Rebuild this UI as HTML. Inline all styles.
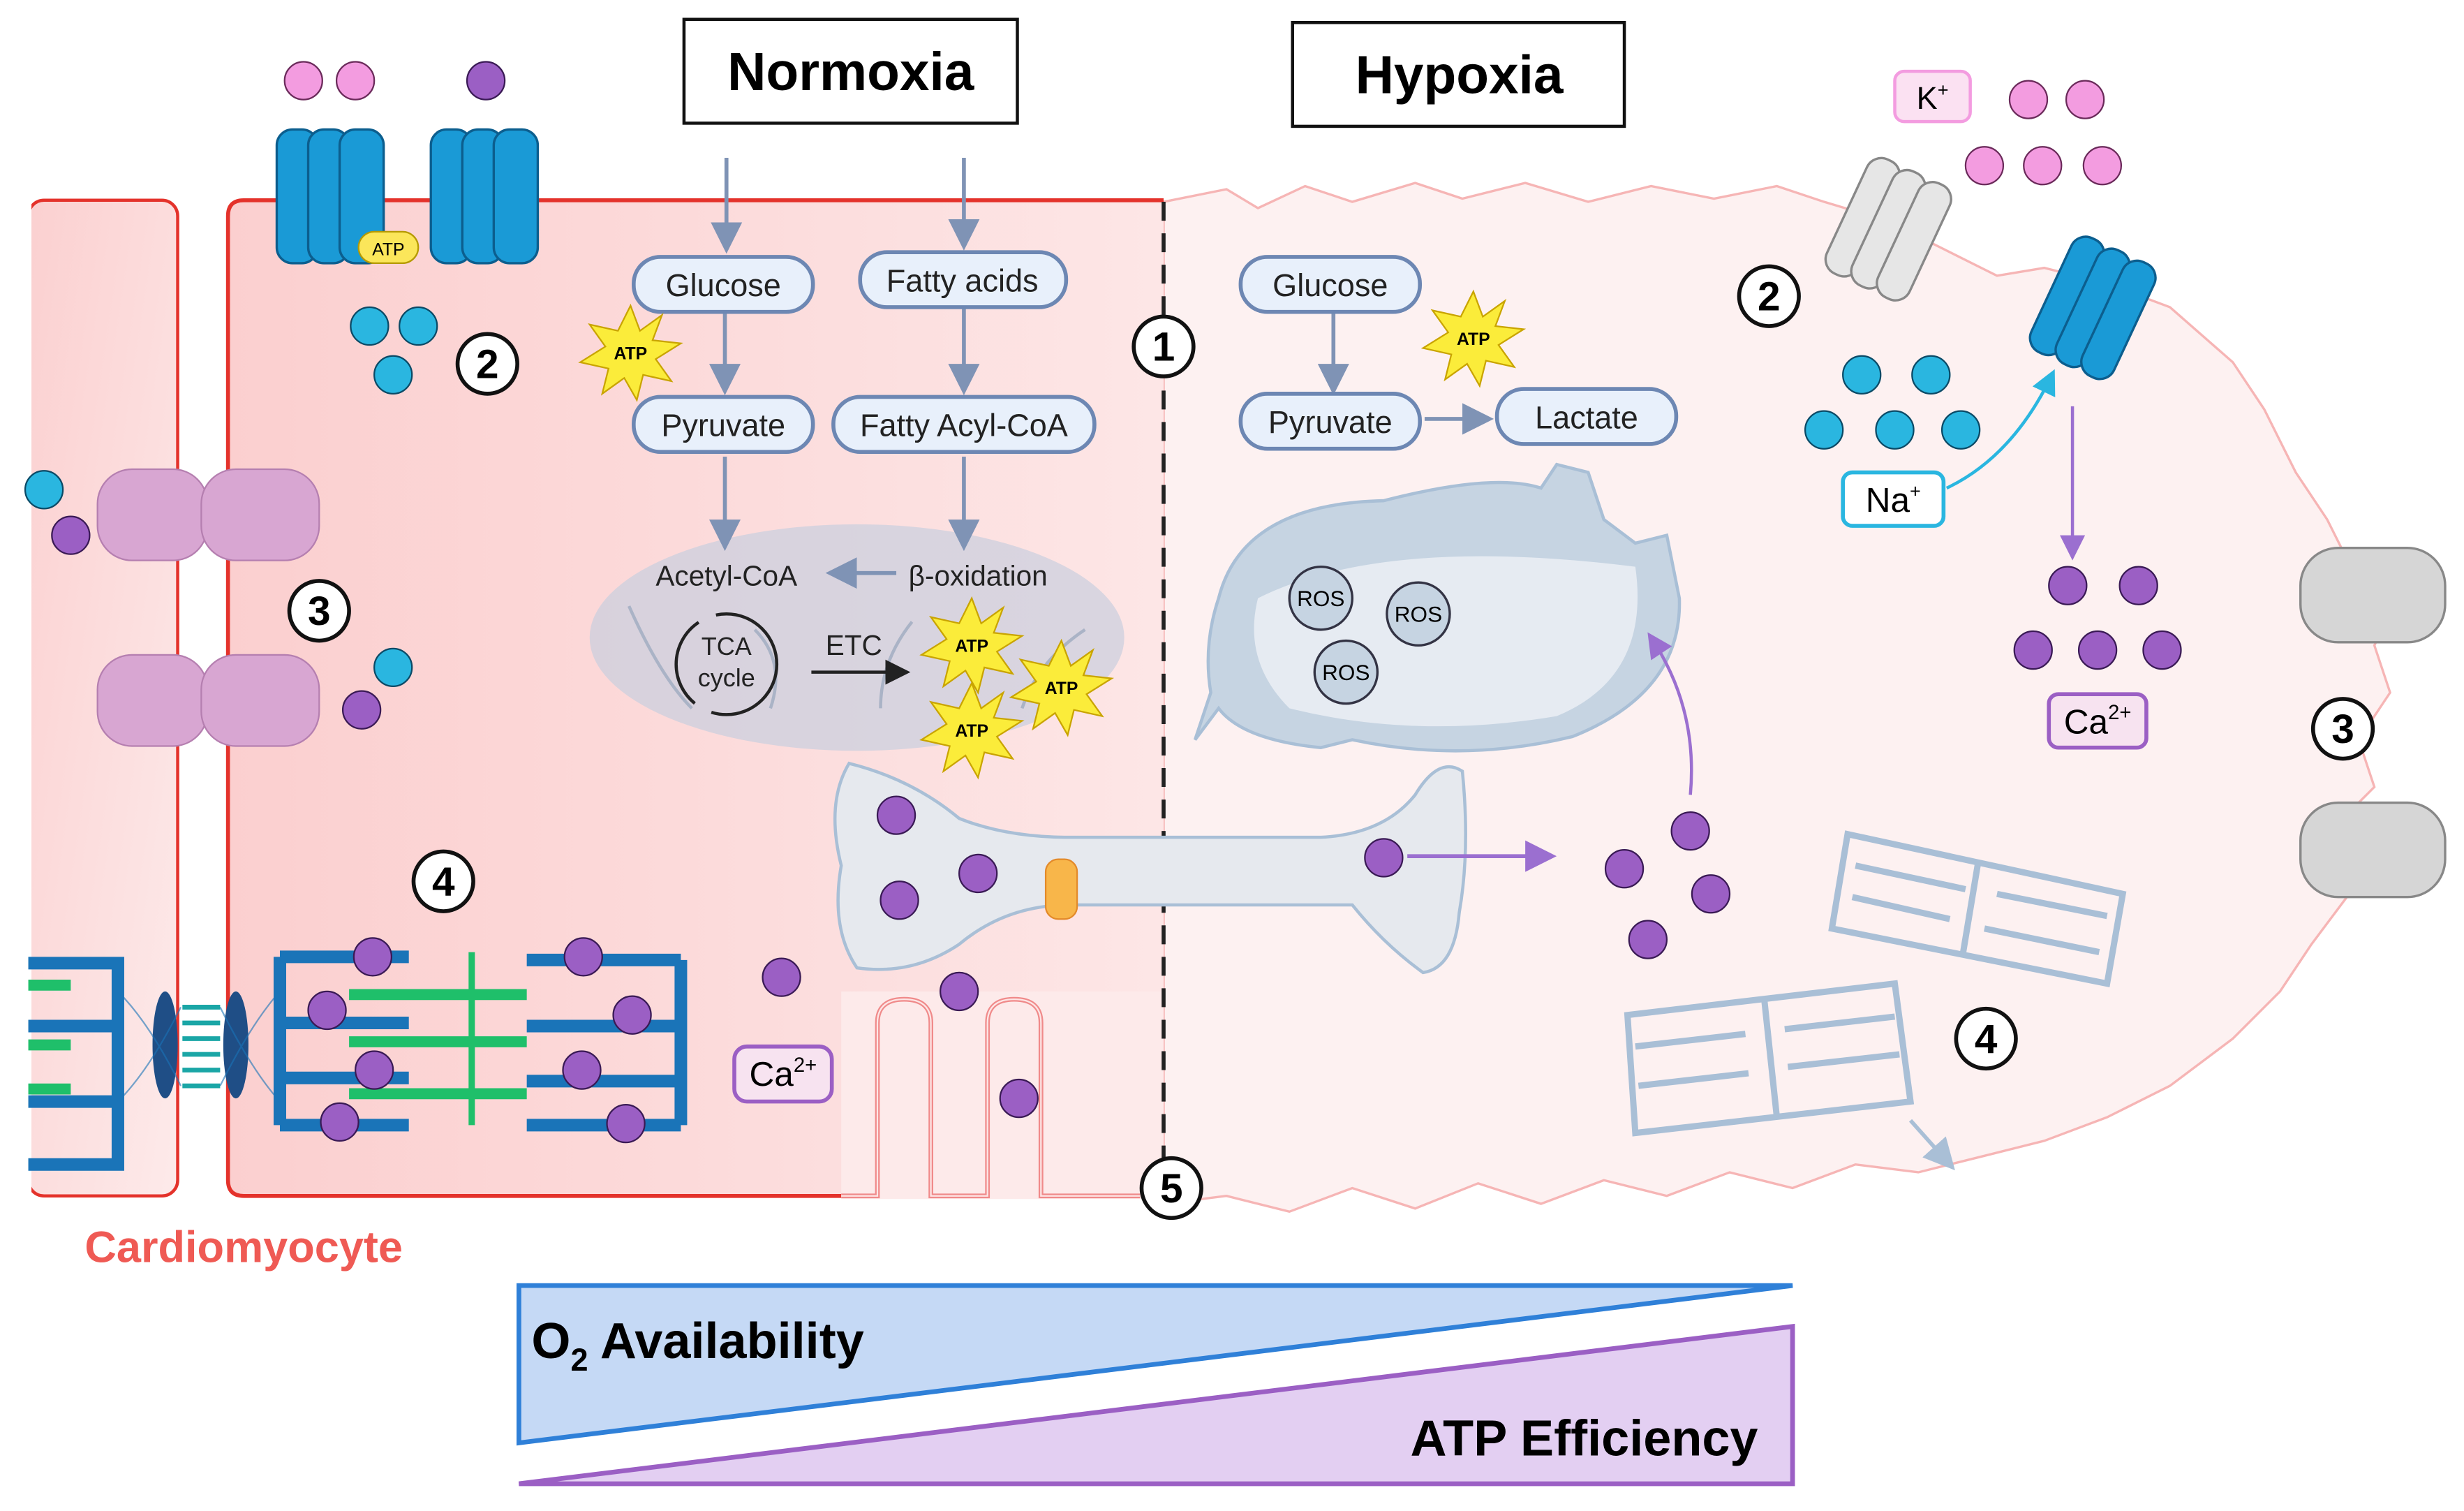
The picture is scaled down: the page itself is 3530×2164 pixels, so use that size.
<!DOCTYPE html>
<html><head><meta charset="utf-8"><style>
html,body{margin:0;padding:0;background:#fff;}
svg{display:block;}
text{font-family:"Liberation Sans",sans-serif;}
</style></head><body>
<svg width="3530" height="2164" viewBox="0 0 1567 960" xmlns="http://www.w3.org/2000/svg">
<defs>
<linearGradient id="pk" x1="0" x2="1" y1="0" y2="0">
<stop offset="0" stop-color="#fbcfcf"/><stop offset="1" stop-color="#fde6e6"/></linearGradient>
<linearGradient id="pk2" x1="0" x2="1" y1="0" y2="1">
<stop offset="0" stop-color="#fbd0d0"/><stop offset="1" stop-color="#fdeaea"/></linearGradient>
<polygon id="st" fill="#fbec3a" stroke="#c9a400" stroke-width="1" points="0,-30 6,-14 20,-24 14,-8 32,-6 16,4 26,18 8,14 4,30 -4,16 -18,26 -14,10 -32,6 -16,-4 -26,-18 -8,-14"/>
<marker id="ab" markerWidth="8" markerHeight="8" refX="6" refY="4" orient="auto"><path d="M0,0 L8,4 L0,8 z" fill="#7f93b5"/></marker>
<marker id="ak" markerWidth="8" markerHeight="8" refX="6" refY="4" orient="auto"><path d="M0,0 L8,4 L0,8 z" fill="#222"/></marker>
<marker id="ap" markerWidth="8" markerHeight="8" refX="6" refY="4" orient="auto"><path d="M0,0 L8,4 L0,8 z" fill="#9b6fd0"/></marker>
<marker id="ac" markerWidth="8" markerHeight="8" refX="6" refY="4" orient="auto"><path d="M0,0 L8,4 L0,8 z" fill="#2ab6e0"/></marker>
<marker id="ag" markerWidth="8" markerHeight="8" refX="6" refY="4" orient="auto"><path d="M0,0 L8,4 L0,8 z" fill="#a9bfd6"/></marker>
</defs>

<!-- hypoxic cell -->
<path d="M740,128 L780,120 800,132 830,118 860,128 900,116 930,126 970,116 1010,128 1050,118 1090,126 1130,118 1160,128 1200,140 1240,160 1270,175 1300,170 1340,180 1380,195 1420,230 1440,260 1460,300 1480,330 1500,370 1520,390 1510,410 1520,440 1500,470 1510,500 1490,520 1500,560 1470,600 1450,630 1420,660 1380,690 1340,710 1300,725 1260,735 1220,745 1180,740 1140,755 1100,745 1060,760 1020,750 980,765 940,752 900,768 860,755 820,770 780,760 740,765 Z" fill="#fdf1f1" stroke="#f6b5b5" stroke-width="1.5"/>
<!-- neighbor cell -->
<rect x="18" y="127" width="95" height="633" rx="10" fill="url(#pk2)" stroke="#e4322b" stroke-width="2"/>
<rect x="10" y="127" width="10" height="635" fill="#fff"/>
<!-- main cell -->
<path d="M740,127 L155,127 Q145,127 145,137 L145,750 Q145,760 155,760 L740,760 Z" fill="url(#pk)"/>
<path d="M740,127 L155,127 Q145,127 145,137 L145,750 Q145,760 155,760 L535,760" fill="none" stroke="#e4322b" stroke-width="2.5"/>
<rect x="535" y="630" width="205" height="132" fill="#fdeaea"/>
<!-- T tubules -->
<path d="M535,760 L558,760 L558,650 Q558,635 575,635 Q592,635 592,650 L592,760 L628,760 L628,650 Q628,635 645,635 Q662,635 662,650 L662,760 L725,760" fill="none" stroke="#f08a8a" stroke-width="3"/>
<path d="M535,760 L558,760 L558,650 Q558,635 575,635 Q592,635 592,650 L592,760 L628,760 L628,650 Q628,635 645,635 Q662,635 662,650 L662,760 L725,760" fill="none" stroke="#fde6e6" stroke-width="1"/>
<!-- dashed line -->
<line x1="740" y1="128" x2="740" y2="745" stroke="#222" stroke-width="2.5" stroke-dasharray="12,8"/>

<!-- titles -->
<rect x="435" y="12" width="212" height="66" fill="#fff" stroke="#111" stroke-width="2"/>
<text x="541" y="57" font-size="34" font-weight="bold" text-anchor="middle">Normoxia</text>
<rect x="822" y="14" width="211" height="66" fill="#fff" stroke="#111" stroke-width="2"/>
<text x="928" y="59" font-size="34" font-weight="bold" text-anchor="middle">Hypoxia</text>

<!-- top channels -->
<circle cx="193" cy="51" r="12" fill="#f39ce0" stroke="#6a2a5a" stroke-width="1"/>
<circle cx="226" cy="51" r="12" fill="#f39ce0" stroke="#6a2a5a" stroke-width="1"/>
<circle cx="309" cy="51" r="12" fill="#9b5fc4" stroke="#3a1a55" stroke-width="1"/>
<g fill="#1a9ad6" stroke="#0c5e8e" stroke-width="1.5">
<rect x="176" y="82" width="26" height="85" rx="10"/><rect x="196" y="82" width="26" height="85" rx="10"/><rect x="216" y="82" width="28" height="85" rx="10"/>
<rect x="274" y="82" width="26" height="85" rx="10"/><rect x="294" y="82" width="26" height="85" rx="10"/><rect x="314" y="82" width="28" height="85" rx="10"/>
</g>
<rect x="228" y="147" width="38" height="20" rx="10" fill="#fbe65a" stroke="#b59a00"/>
<text x="247" y="162" font-size="11" text-anchor="middle">ATP</text>
<g fill="#2ab6e0" stroke="#0b4a66" stroke-width="1">
<circle cx="235" cy="207" r="12"/><circle cx="266" cy="207" r="12"/><circle cx="250" cy="238" r="12"/>
<circle cx="28" cy="311" r="12"/><circle cx="250" cy="424" r="12"/>
<circle cx="1184" cy="238" r="12"/><circle cx="1228" cy="238" r="12"/><circle cx="1160" cy="273" r="12"/><circle cx="1205" cy="273" r="12"/><circle cx="1247" cy="273" r="12"/>
</g>
<g fill="#9b5fc4" stroke="#3a1a55" stroke-width="1">
<circle cx="45" cy="340" r="12"/><circle cx="230" cy="451" r="12"/>
</g>
<!-- numbered circles -->
<g fill="#fff" stroke="#111" stroke-width="2.5">
<circle cx="310" cy="231" r="19"/><circle cx="203" cy="388" r="19"/><circle cx="282" cy="560" r="19"/>
<circle cx="740" cy="220" r="19"/><circle cx="745" cy="755" r="19"/>
<circle cx="1125" cy="188" r="19"/><circle cx="1490" cy="463" r="19"/><circle cx="1263" cy="660" r="19"/>
</g>
<g font-size="26" text-anchor="middle" font-weight="bold">
<text x="310" y="240">2</text><text x="203" y="397">3</text><text x="282" y="569">4</text>
<text x="740" y="229">1</text><text x="745" y="764">5</text>
<text x="1125" y="197">2</text><text x="1490" y="472">3</text><text x="1263" y="669">4</text>
</g>

<!-- gap junction purple -->
<g fill="#d8a6d2" stroke="#b57fb0" stroke-width="1">
<rect x="62" y="298" width="70" height="58" rx="22"/><rect x="128" y="298" width="75" height="58" rx="22"/>
<rect x="62" y="416" width="70" height="58" rx="22"/><rect x="128" y="416" width="75" height="58" rx="22"/>
</g>

<!-- myofibrils -->
<g stroke="#1a74b8" stroke-width="8" fill="none">
<path d="M18,612 L75,612 L75,740 L18,740"/><path d="M18,652 L75,652"/><path d="M18,700 L75,700"/>
<path d="M178,608 L178,715 M178,608 L260,608 M178,650 L260,650 M178,685 L260,685 M178,715 L260,715"/>
<path d="M433,610 L433,715 M433,610 L335,610 M433,652 L335,652 M433,687 L335,687 M433,715 L335,715"/>
</g>
<g stroke="#1fbf6a" stroke-width="7">
<line x1="18" y1="626" x2="45" y2="626"/><line x1="18" y1="664" x2="45" y2="664"/><line x1="18" y1="692" x2="45" y2="692"/>
<line x1="222" y1="632" x2="335" y2="632"/><line x1="222" y1="662" x2="335" y2="662"/><line x1="222" y1="695" x2="335" y2="695"/>
<line x1="300" y1="605" x2="300" y2="715" stroke-width="4"/>
</g>
<ellipse cx="105" cy="664" rx="8" ry="34" fill="#1f4e86"/><ellipse cx="150" cy="664" rx="8" ry="34" fill="#1f4e86"/>
<g stroke="#1aa6a6" stroke-width="3">
<line x1="116" y1="640" x2="140" y2="640"/><line x1="116" y1="650" x2="140" y2="650"/><line x1="116" y1="660" x2="140" y2="660"/><line x1="116" y1="670" x2="140" y2="670"/><line x1="116" y1="680" x2="140" y2="680"/><line x1="116" y1="690" x2="140" y2="690"/>
</g>
<g stroke="#1a74b8" stroke-width="1" fill="none" opacity="0.6">
<path d="M75,630 Q95,650 115,690"/><path d="M75,700 Q95,680 115,640"/><path d="M178,630 Q160,650 140,690"/><path d="M178,700 Q160,680 140,640"/>
</g>
<g fill="#9b5fc4" stroke="#3a1a55" stroke-width="1">
<circle cx="237" cy="608" r="12"/><circle cx="208" cy="642" r="12"/><circle cx="238" cy="680" r="12"/><circle cx="216" cy="713" r="12"/>
<circle cx="371" cy="608" r="12"/><circle cx="402" cy="645" r="12"/><circle cx="370" cy="680" r="12"/><circle cx="398" cy="714" r="12"/>
<circle cx="497" cy="621" r="12"/><circle cx="610" cy="630" r="12"/><circle cx="648" cy="698" r="12"/>
</g>
<rect x="467" y="665" width="62" height="35" rx="8" fill="#f7e3f0" stroke="#9b5fc4" stroke-width="2.5"/>
<text x="498" y="690" font-size="22" text-anchor="middle">Ca<tspan font-size="13" dy="-9">2+</tspan></text>

<!-- SR bone shape -->
<path d="M540,485 Q580,495 610,520 Q640,532 680,532 L840,532 Q880,530 900,505 Q915,480 930,490 Q935,540 928,580 Q925,615 905,618 Q880,600 860,575 L680,575 Q640,575 610,600 Q580,620 545,615 Q528,590 535,550 Q525,510 540,485 Z" fill="#e6e9ee" stroke="#a9bfd6" stroke-width="2"/>
<rect x="665" y="546" width="20" height="38" rx="8" fill="#f8b64a" stroke="#e38a2a"/>
<g fill="#9b5fc4" stroke="#3a1a55" stroke-width="1">
<circle cx="570" cy="518" r="12"/><circle cx="622" cy="555" r="12"/><circle cx="572" cy="572" r="12"/><circle cx="880" cy="545" r="12"/>
<circle cx="1075" cy="528" r="12"/><circle cx="1033" cy="552" r="12"/><circle cx="1088" cy="568" r="12"/><circle cx="1048" cy="597" r="12"/>
<circle cx="1315" cy="372" r="12"/><circle cx="1360" cy="372" r="12"/><circle cx="1293" cy="413" r="12"/><circle cx="1334" cy="413" r="12"/><circle cx="1375" cy="413" r="12"/>
</g>
<line x1="895" y1="544" x2="985" y2="544" stroke="#9b6fd0" stroke-width="2.5" marker-end="url(#ap)"/>

<!-- normoxia metabolism -->
<ellipse cx="545" cy="405" rx="170" ry="72" fill="#c9cede" opacity="0.7"/>
<g stroke="#aab3c6" stroke-width="2" fill="none"><path d="M400,385 Q420,430 440,450"/><path d="M490,450 Q500,420 480,400"/><path d="M560,450 Q560,420 580,395"/><path d="M650,450 Q660,420 690,400"/></g>
<g stroke="#7f93b5" stroke-width="2.5" fill="none" marker-end="url(#ab)">
<line x1="462" y1="100" x2="462" y2="156"/><line x1="613" y1="100" x2="613" y2="154"/>
<line x1="461" y1="199" x2="461" y2="246"/><line x1="613" y1="196" x2="613" y2="246"/>
<line x1="461" y1="290" x2="461" y2="345"/><line x1="613" y1="290" x2="613" y2="345"/>
<line x1="570" y1="364" x2="530" y2="364"/>
<line x1="848" y1="198" x2="848" y2="246"/><line x1="906" y1="266" x2="945" y2="266"/>
</g>
<g fill="#e8f0fb" stroke="#6d87b3" stroke-width="2.5">
<rect x="403" y="163" width="114" height="35" rx="17"/><rect x="547" y="160" width="131" height="35" rx="17"/>
<rect x="403" y="252" width="114" height="35" rx="17"/><rect x="530" y="252" width="166" height="35" rx="17"/>
<rect x="789" y="163" width="114" height="35" rx="17"/><rect x="789" y="250" width="114" height="35" rx="17"/><rect x="952" y="247" width="114" height="35" rx="17"/>
</g>
<g font-size="20" text-anchor="middle" fill="#222">
<text x="460" y="188">Glucose</text><text x="612" y="185">Fatty acids</text>
<text x="460" y="277">Pyruvate</text><text x="613" y="277">Fatty Acyl-CoA</text>
<text x="846" y="188">Glucose</text><text x="846" y="275">Pyruvate</text><text x="1009" y="272">Lactate</text>
<text x="462" y="372" font-size="18">Acetyl-CoA</text><text x="622" y="372" font-size="18">β-oxidation</text>
<text x="462" y="416" font-size="16">TCA</text><text x="462" y="436" font-size="16">cycle</text>
<text x="543" y="416" font-size="18">ETC</text>
</g>
<circle cx="462" cy="422" r="32" fill="none" stroke="#222" stroke-width="2" stroke-dasharray="60,12"/>
<line x1="516" y1="427" x2="575" y2="427" stroke="#222" stroke-width="2" marker-end="url(#ak)"/>
<!-- ATP stars -->
<g font-size="11" font-weight="bold" text-anchor="middle">
<use href="#st" x="401" y="224"/><text x="401" y="228">ATP</text>
<use href="#st" x="618" y="410"/><text x="618" y="414">ATP</text>
<use href="#st" x="675" y="437"/><text x="675" y="441">ATP</text>
<use href="#st" x="618" y="464"/><text x="618" y="468">ATP</text>
<use href="#st" x="937" y="215"/><text x="937" y="219">ATP</text>
</g>

<!-- damaged mitochondrion -->
<path d="M775,380 Q790,320 880,318 Q950,300 980,310 L990,295 1010,300 1020,330 1040,345 1060,340 1068,380 Q1070,440 1000,468 Q930,485 860,470 L840,475 Q790,470 775,450 L760,470 L770,440 Q765,410 775,380 Z" fill="#c6d4e2" stroke="#a9bfd6" stroke-width="2"/>
<path d="M800,380 Q880,340 1040,360 Q1050,430 990,455 Q900,470 820,450 Q790,420 800,380 Z" fill="#eef0f6" opacity="0.8"/>
<g fill="#c6d4e2" stroke="#334" stroke-width="1.5">
<circle cx="840" cy="380" r="20"/><circle cx="902" cy="390" r="20"/><circle cx="856" cy="427" r="20"/>
</g>
<g font-size="14" text-anchor="middle"><text x="840" y="385">ROS</text><text x="902" y="395">ROS</text><text x="856" y="432">ROS</text></g>
<path d="M1075,505 Q1080,450 1050,405" fill="none" stroke="#9b6fd0" stroke-width="2" marker-end="url(#ap)"/>

<!-- right side ions/channels -->
<rect x="1205" y="45" width="48" height="32" rx="6" fill="#fbe1f2" stroke="#f39ce0" stroke-width="2"/>
<text x="1229" y="69" font-size="20" text-anchor="middle">K<tspan font-size="12" dy="-8">+</tspan></text>
<g fill="#f39ce0" stroke="#6a2a5a" stroke-width="1">
<circle cx="1290" cy="63" r="12"/><circle cx="1326" cy="63" r="12"/><circle cx="1262" cy="105" r="12"/><circle cx="1299" cy="105" r="12"/><circle cx="1337" cy="105" r="12"/>
</g>
<g transform="rotate(25 1200 145)" fill="#e6e6e6" stroke="#888" stroke-width="1.5">
<rect x="1172" y="105" width="22" height="80" rx="10"/><rect x="1190" y="105" width="22" height="80" rx="10"/><rect x="1208" y="105" width="22" height="80" rx="10"/>
</g>
<g transform="rotate(25 1330 195)" fill="#1a9ad6" stroke="#0c5e8e" stroke-width="1.5">
<rect x="1302" y="155" width="22" height="80" rx="10"/><rect x="1320" y="155" width="22" height="80" rx="10"/><rect x="1338" y="155" width="22" height="80" rx="10"/>
</g>
<rect x="1172" y="300" width="64" height="34" rx="6" fill="#fff" stroke="#2ab6e0" stroke-width="2.5"/>
<text x="1204" y="325" font-size="22" text-anchor="middle">Na<tspan font-size="12" dy="-9">+</tspan></text>
<path d="M1238,310 Q1280,290 1305,238" fill="none" stroke="#2ab6e0" stroke-width="2" marker-end="url(#ac)"/>
<line x1="1318" y1="258" x2="1318" y2="352" stroke="#9b6fd0" stroke-width="2" marker-end="url(#ap)"/>
<rect x="1303" y="441" width="62" height="34" rx="6" fill="#f7e3f0" stroke="#9b5fc4" stroke-width="2.5"/>
<text x="1334" y="466" font-size="22" text-anchor="middle">Ca<tspan font-size="13" dy="-9">2+</tspan></text>
<g fill="#d6d6d6" stroke="#888" stroke-width="1.5">
<rect x="1463" y="348" width="92" height="60" rx="24"/><rect x="1463" y="510" width="92" height="60" rx="24"/>
</g>
<!-- disrupted sarcomeres -->
<g stroke="#a9bfd6" stroke-width="4" fill="none">
<path d="M1175,530 L1350,568 L1340,625 L1165,590 Z"/>
<path d="M1258,548 L1248,608 M1180,550 L1250,565 M1270,568 L1340,582 M1178,570 L1240,584 M1262,590 L1335,605"/>
<path d="M1035,645 L1205,625 L1215,700 L1040,720 Z"/>
<path d="M1122,635 L1130,710 M1040,665 L1110,657 M1135,654 L1205,646 M1042,690 L1112,682 M1137,678 L1208,670"/>
</g>
<line x1="1215" y1="712" x2="1240" y2="740" stroke="#a9bfd6" stroke-width="2.5" marker-end="url(#ag)"/>

<text x="155" y="802" font-size="28" font-weight="bold" fill="#ef5a54" text-anchor="middle">Cardiomyocyte</text>

<!-- bottom triangles -->
<polygon points="330,817 1140,817 330,917" fill="#c5d9f5" stroke="#2f80d8" stroke-width="3"/>
<polygon points="330,943 1140,843 1140,943" fill="#e3cff2" stroke="#9b5fc4" stroke-width="3"/>
<text x="338" y="863" font-size="32" font-weight="bold">O<tspan font-size="20" dy="8">2</tspan><tspan dy="-8"> Availability</tspan></text>
<text x="1118" y="925" font-size="32" font-weight="bold" text-anchor="end">ATP Efficiency</text>
</svg>
</body></html>
